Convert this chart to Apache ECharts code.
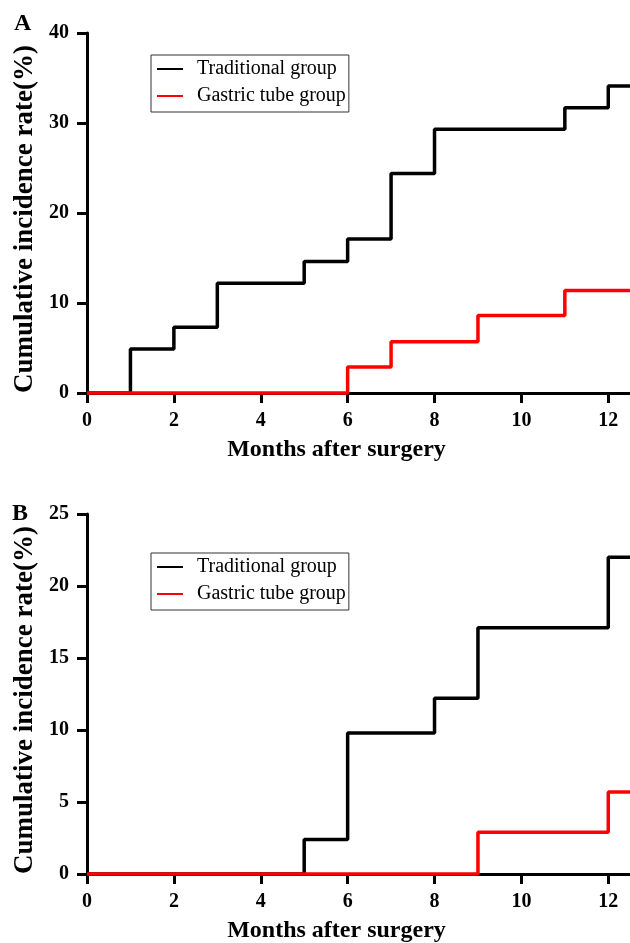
<!DOCTYPE html>
<html>
<head>
<meta charset="utf-8">
<script src="https://cdn.jsdelivr.net/npm/echarts@6/dist/echarts.min.js"></script>
<style>
html,body{margin:0;padding:0;background:#fff;}
#chart{width:630px;height:943px;}
</style>
</head>
<body>
<div id="chart"></div>
<script>
// Panel A
const tradA_months = [0, 1, 2, 3, 5, 6, 7, 8, 11, 12, 12.5];
const tradA_rate   = [0, 4.9, 7.3, 12.2, 14.6, 17.1, 24.4, 29.3, 31.7, 34.1, 34.1];
const gastA_months = [0, 6, 7, 9, 11, 12.5];
const gastA_rate   = [0, 2.9, 5.7, 8.6, 11.4, 11.4];
// Panel B
const tradB_months = [0, 5, 6, 8, 9, 12, 12.5];
const tradB_rate   = [0, 2.4, 9.8, 12.2, 17.1, 22.0, 22.0];
const gastB_months = [0, 9, 12, 12.5];
const gastB_rate   = [0, 2.9, 5.7, 5.7];

const seriesNames = ['Traditional group', 'Gastric tube group'];
const panelLabels = ['A', 'B'];
const xTitle = 'Months after surgery';
const yTitle = 'Cumulative incidence rate(%)';

const pair = (xs, ys) => xs.map((x, i) => [x, ys[i]]);
const FONT = 'Liberation Serif';

function xAxis(gi) {
  return {
    type: 'value', gridIndex: gi, min: 0, max: 12.5, interval: 2,
    name: xTitle, nameLocation: 'middle', nameGap: 45,
    nameTextStyle: {fontFamily: FONT, fontWeight: 'bold', fontSize: 24, color: '#000', padding: [0, 44, 0, 0]},
    axisLine: {show: true, onZero: false, lineStyle: {color: '#000', width: 3}},
    axisTick: {show: true, length: 10, lineStyle: {color: '#000', width: 3}},
    axisLabel: {fontFamily: FONT, fontWeight: 'bold', fontSize: 20, color: '#000', margin: 18, showMaxLabel: false},
    splitLine: {show: false}
  };
}
function yAxis(gi, max, interval) {
  return {
    type: 'value', gridIndex: gi, min: 0, max: max, interval: interval,
    name: yTitle, nameLocation: 'middle', nameGap: 46,
    nameTextStyle: {fontFamily: FONT, fontWeight: 'bold', fontSize: 27, color: '#000', padding: [0, 12, 0, 0]},
    axisLine: {show: true, lineStyle: {color: '#000', width: 3}},
    axisTick: {show: true, length: 10, lineStyle: {color: '#000', width: 3}},
    axisLabel: {fontFamily: FONT, fontWeight: 'bold', fontSize: 20, color: '#000', margin: 18},
    splitLine: {show: false}
  };
}
function legend(top) {
  return {
    orient: 'vertical', left: 151, top: top,
    data: seriesNames,
    icon: 'rect', itemWidth: 26, itemHeight: 2, itemGap: 7,
    borderColor: '#333', borderWidth: 1, padding: [4, 3, 6, 6],
    textStyle: {fontFamily: FONT, fontSize: 20, color: '#000', padding: [0, 0, 0, 9], lineHeight: 19},
    selectedMode: false
  };
}
function line(name, data, color, gi) {
  return {
    type: 'line', name: name, data: data, step: 'end',
    xAxisIndex: gi, yAxisIndex: gi, symbol: 'none', clip: false,
    color: color, lineStyle: {color: color, width: 3.5}, animation: false
  };
}

const chart = echarts.init(document.getElementById('chart'), null, {renderer: 'canvas'});
chart.setOption({
  backgroundColor: '#fff',
  animation: false,
  grid: [
    {left: 87, top: 33, height: 360, right: 0, containLabel: false, outerBoundsMode: 'none'},
    {left: 87, top: 514, height: 360, right: 0, containLabel: false, outerBoundsMode: 'none'}
  ],
  xAxis: [xAxis(0), xAxis(1)],
  yAxis: [yAxis(0, 40, 10), yAxis(1, 25, 5)],
  legend: [legend(55), legend(553)],
  graphic: [
    {type: 'text', left: 14, top: 12, style: {text: panelLabels[0], font: 'bold 24px "Liberation Serif"', fill: '#000'}},
    {type: 'text', left: 12, top: 502, style: {text: panelLabels[1], font: 'bold 24px "Liberation Serif"', fill: '#000'}}
  ],
  series: [
    line(seriesNames[0], pair(tradA_months, tradA_rate), '#000', 0),
    line(seriesNames[1], pair(gastA_months, gastA_rate), '#ff0000', 0),
    line(seriesNames[0], pair(tradB_months, tradB_rate), '#000', 1),
    line(seriesNames[1], pair(gastB_months, gastB_rate), '#ff0000', 1)
  ]
});
</script>
</body>
</html>
